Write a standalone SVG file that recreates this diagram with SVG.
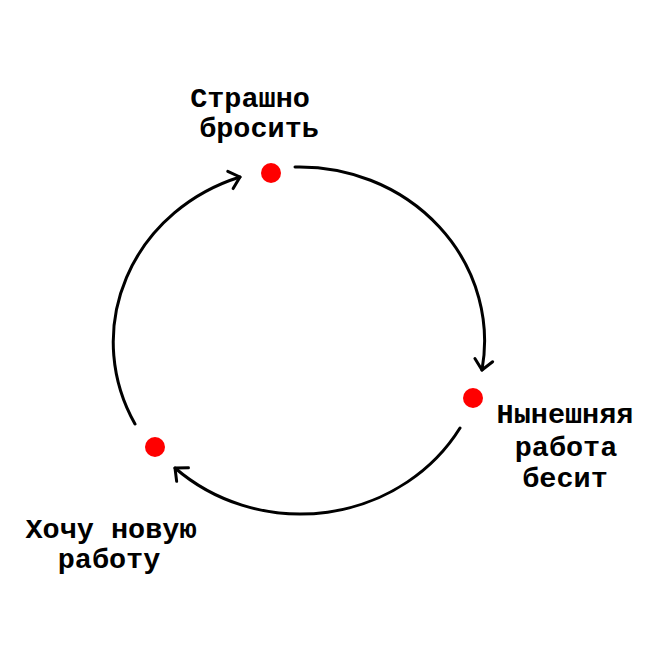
<svg xmlns="http://www.w3.org/2000/svg" width="654" height="654" viewBox="0 0 654 654">
<style>
.lbl{font-family:"Liberation Mono","DejaVu Sans Mono",monospace;font-weight:bold;font-size:28.5px;fill:#000;text-anchor:middle}
.arc{fill:none;stroke:#000;stroke-width:3;stroke-linecap:round}
.dot{fill:#f00}
</style>
<defs>
<marker id="arr" markerUnits="userSpaceOnUse" markerWidth="30" markerHeight="30" viewBox="-15 -15 30 30" refX="0" refY="0" orient="auto" overflow="visible">
<path d="M-10,-9 L0,0 L-10,9" fill="none" stroke="#000" stroke-width="3" stroke-linecap="round" stroke-linejoin="round"/>
</marker>
</defs>
<rect width="654" height="654" fill="#fff"/>
<g id="connectors">
<path class="arc" d="M295,167 A185,174 0 0 1 482,370" marker-end="url(#arr)"/>
<path class="arc" d="M460,428 A185,174 0 0 1 175,468" marker-end="url(#arr)"/>
<path class="arc" d="M135,424 A185,174 0 0 1 240,177" marker-end="url(#arr)"/>
</g>
<g id="node-scary">
<circle class="dot" cx="271" cy="173" r="10"/>
<text class="lbl" x="250" y="107">Страшно</text>
<text class="lbl" x="259" y="137">бросить</text>
</g>
<g id="node-annoying">
<circle class="dot" cx="473" cy="398" r="10"/>
<text class="lbl" x="565" y="423">Нынешняя</text>
<text class="lbl" x="566" y="456">работа</text>
<text class="lbl" x="565" y="487">бесит</text>
</g>
<g id="node-newjob">
<circle class="dot" cx="155" cy="447" r="10"/>
<text class="lbl" x="111" y="538">Хочу новую</text>
<text class="lbl" x="109" y="568">работу</text>
</g>
</svg>
